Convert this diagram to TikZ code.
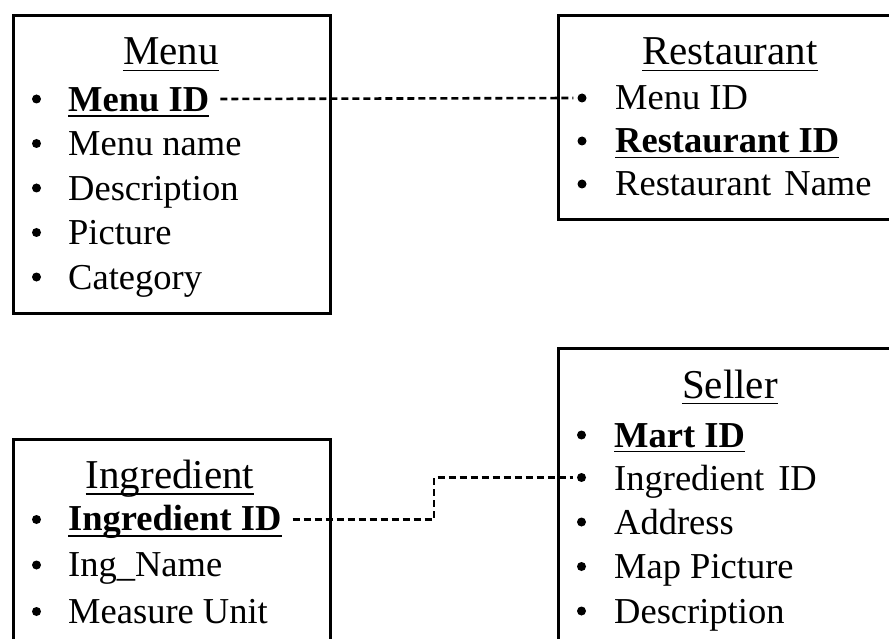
\documentclass[tikz,border=0pt]{standalone}
\usepackage{fontspec}
\setmainfont{Liberation Serif}
\usetikzlibrary{calc}
\tikzset{
  entity/.style={draw, line width=3pt, rectangle, anchor=north west, inner sep=0pt},
  title/.style={anchor=base, inner sep=0pt, font=\fontsize{41}{41}\selectfont},
  field/.style={anchor=base west, inner sep=0pt, font=\fontsize{36.5}{36.5}\selectfont},
  keyfield/.style={anchor=base west, inner sep=0pt, font=\fontsize{36.5}{36.5}\selectfont\bfseries},
  bulletdot/.style={circle, fill=black, inner sep=0pt, minimum size=9pt},
  uline/.style={line width=1.8pt},
  link/.style={dash pattern=on 7pt off 4pt, line width=2.6pt},
}
\begin{document}
\begin{tikzpicture}[x=1pt,y=-1pt]
\useasboundingbox (0,0) rectangle (889,639);
\clip (0,0) rectangle (889,639);

% ---------- Menu ----------
\node[entity, minimum width=317pt, minimum height=298pt] (menu) at (12,14) {};
\node[title] (menuT) at (171,65) {Menu};
\draw[uline] ([yshift=-5.5pt]menuT.base west) -- ([yshift=-5.5pt]menuT.base east);
\node[bulletdot] (mb1) at (36.5,99) {};
\node[keyfield] (mid) at (68,111.5) {Menu ID};
\draw[uline] ([yshift=-4.5pt]mid.base west) -- ([yshift=-4.5pt]mid.base east);
\node[bulletdot] (mb2) at (36.5,143.5) {};
\node[field] (mname) at (68,156) {Menu name};
\node[bulletdot] (mb3) at (36.5,188) {};
\node[field] (mdesc) at (68,200.5) {Description};
\node[bulletdot] (mb4) at (36.5,232.5) {};
\node[field] (mpic) at (68,245) {Picture};
\node[bulletdot] (mb5) at (36.5,277) {};
\node[field] (mcat) at (68,289.5) {Category};

% ---------- Restaurant ----------
\node[entity, minimum width=350pt, minimum height=204pt] (rest) at (556.5,14) {};
\node[title] (restT) at (730,65) {Restaurant};
\draw[uline] ([yshift=-5.5pt]restT.base west) -- ([yshift=-5.5pt]restT.base east);
\node[bulletdot] (rb1) at (582,98) {};
\node[field] (rmid) at (615,110) {Menu ID};
\node[bulletdot] (rb2) at (582,141) {};
\node[keyfield] (rid) at (615,153) {Restaurant ID};
\draw[uline] ([yshift=-4.5pt]rid.base west) -- ([yshift=-4.5pt]rid.base east);
\node[bulletdot] (rb3) at (582,184) {};
\node[field] (rname) at (615,196) {Restaurant\hspace{4pt} Name};

% ---------- Ingredient ----------
\node[entity, minimum width=317pt, minimum height=240pt] (ingr) at (12,438) {};
\node[title] (ingrT) at (170,488) {Ingredient};
\draw[uline] ([yshift=-6pt]ingrT.base west) -- ([yshift=-6pt]ingrT.base east);
\node[bulletdot] (ib1) at (36.5,519.5) {};
\node[keyfield] (iid) at (68,530) {Ingredient ID};
\draw[uline] ([yshift=-6pt]iid.base west) -- ([yshift=-6pt]iid.base east);
\node[bulletdot] (ib2) at (36.5,565) {};
\node[field] (iname) at (68,576.5) {Ing\_Name};
\node[bulletdot] (ib3) at (36.5,611.5) {};
\node[field] (iunit) at (68,623) {Measure Unit};

% ---------- Seller ----------
\node[entity, minimum width=350pt, minimum height=320pt] (sell) at (556.5,347) {};
\node[title] (sellT) at (730,398) {Seller};
\draw[uline] ([yshift=-5.5pt]sellT.base west) -- ([yshift=-5.5pt]sellT.base east);
\node[bulletdot] (sb1) at (581.5,435) {};
\node[keyfield] (sid) at (614,447) {Mart ID};
\draw[uline] ([yshift=-4.5pt]sid.base west) -- ([yshift=-4.5pt]sid.base east);
\node[bulletdot] (sb2) at (581.5,477.5) {};
\node[field] (sing) at (614,490) {Ingredient\hspace{5pt} ID};
\node[bulletdot] (sb3) at (581.5,522) {};
\node[field] (saddr) at (614,534) {Address};
\node[bulletdot] (sb4) at (581.5,566.5) {};
\node[field] (smap) at (614,578.5) {Map Picture};
\node[bulletdot] (sb5) at (581.5,611) {};
\node[field] (sdesc) at (614,623) {Description};

% ---------- relations ----------
\draw[link] ($(mid.east |- mb1.center)+(11,0)$) -- ($(rb1.west)+(-4,0)$);
\coordinate (jog) at (434,500);
\draw[link] ($(iid.east |- ib1.center)+(11,0)$) -| (jog |- sb2.center) -- ($(sb2.west)+(-4,0)$);
\end{tikzpicture}
\end{document}
